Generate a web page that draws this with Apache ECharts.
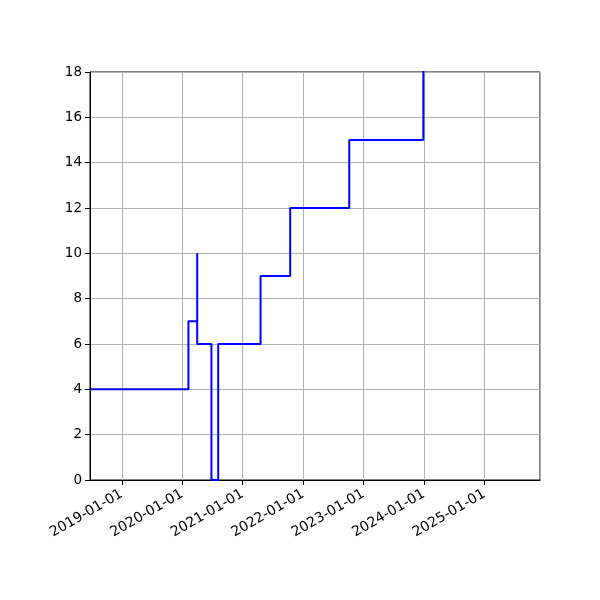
<!DOCTYPE html>
<html>
<head>
<meta charset="utf-8">
<script src="https://cdn.jsdelivr.net/npm/echarts@6/dist/echarts.min.js"></script>
<style>html,body{margin:0;padding:0;background:#fff}#c{width:600px;height:600px}</style>
</head>
<body>
<div id="c"></div>
<script>
// step change dates and the value that begins on each date
const changeDates = ['2018-06-23','2020-02-08','2020-04-01','2020-04-01','2020-06-26','2020-08-06','2021-04-19','2021-10-15','2022-10-07','2023-12-29'];
const changeValues = [4, 7, 10, 6, 0, 6, 9, 12, 15, 21];
const xRange = ['2018-06-23', '2025-12-03'];
const yTicks = [0, 2, 4, 6, 8, 10, 12, 14, 16, 18];

const DAY = 86400000;
const data = changeDates.map((d, i) => [d, changeValues[i]]);

const chart = echarts.init(document.getElementById('c'), null, {renderer: 'canvas'});
chart.setOption({
  animation: false,
  backgroundColor: '#fff',
  grid: {left: 90, right: 60, top: 72, bottom: 120, show: true, borderColor: '#000', borderWidth: 1, backgroundColor: 'transparent', containLabel: false},
  xAxis: {
    type: 'time',
    min: xRange[0], max: xRange[1],
    minInterval: 365 * DAY, maxInterval: 366 * DAY,
    axisLine: {show: true, lineStyle: {color: '#000', width: 1}},
    axisTick: {show: true, length: 5, lineStyle: {color: '#000', width: 1}},
    splitLine: {show: true, lineStyle: {color: '#b0b0b0', width: 1}},
    axisLabel: {
      rotate: 30, fontFamily: 'DejaVu Sans', fontSize: 14, color: '#000', margin: 13,
      formatter: function (v) { return echarts.time.format(v, '{yyyy}-{MM}-{dd}', false); },
      showMinLabel: false, showMaxLabel: false
    },
    minorTick: {show: false}
  },
  yAxis: {
    type: 'value',
    min: yTicks[0], max: yTicks[yTicks.length - 1], interval: 2,
    axisLine: {show: true, lineStyle: {color: '#000', width: 1}},
    axisTick: {show: true, length: 5, lineStyle: {color: '#000', width: 1}},
    splitLine: {show: true, lineStyle: {color: '#b0b0b0', width: 1}},
    axisLabel: {fontFamily: 'DejaVu Sans', fontSize: 13.5, color: '#000', margin: 8}
  },
  series: [{
    type: 'line',
    step: 'end',
    data: data,
    showSymbol: false,
    clip: true,
    lineStyle: {color: '#0000ff', width: 2},
    itemStyle: {color: '#0000ff'}
  }]
});
</script>
</body>
</html>
